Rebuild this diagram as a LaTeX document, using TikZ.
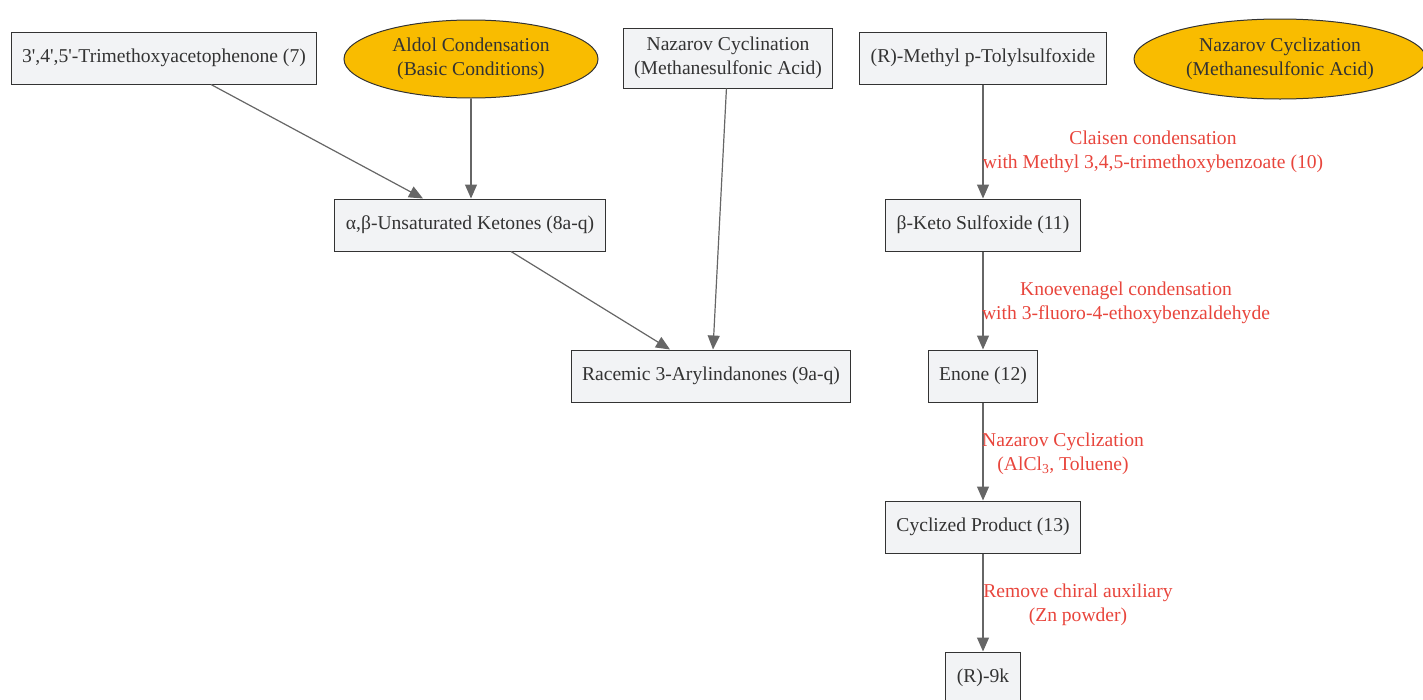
\documentclass[tikz,border=0pt]{standalone}
\usepackage{fontspec}
\setmainfont{Liberation Serif}
\usetikzlibrary{shapes.geometric,arrows.meta}
\definecolor{boxfill}{HTML}{F2F3F5}
\definecolor{boxline}{HTML}{333333}
\definecolor{condfill}{HTML}{F9BC00}
\definecolor{edgegray}{HTML}{666666}
\definecolor{labelred}{HTML}{E8453C}
\begin{document}
\begin{tikzpicture}[x=1pt,y=-1pt,%
% common options for the boxes:
block/.style = {draw=boxline, fill=boxfill, text=boxline, align=center, line width=1pt,
            minimum height=52pt, inner xsep=11pt, inner ysep=0, font=\fontsize{19.6}{24}\selectfont},
% common options for the ellipses:
cond/.style = {ellipse, draw=boxline, fill=condfill, text=boxline, align=center, line width=1pt,
            inner sep=0, font=\fontsize{19.6}{24}\selectfont},
% edge labels:
lab/.style = {text=labelred, align=center, font=\fontsize{19.6}{24}\selectfont},
link/.style = {draw=edgegray, line width=1.2pt, -{Triangle[length=14pt,width=12pt]}}]
\useasboundingbox (0,0) rectangle (1423,699);
\node[block] (tma) at (164,58) {3\textquotesingle,4\textquotesingle,5\textquotesingle-Trimethoxyacetophenone (7)};
\node[cond, minimum width=254pt, minimum height=78pt] (aldol) at (471,59) {Aldol Condensation\\(Basic Conditions)};
\node[block, minimum height=60pt] (naz1) at (728,58) {Nazarov Cyclination\\(Methanesulfonic Acid)};
\node[block] (sulf) at (983,58) {(R)-Methyl p-Tolylsulfoxide};
\node[cond, minimum width=292pt, minimum height=80pt] (naz2) at (1280,59) {Nazarov Cyclization\\(Methanesulfonic Acid)};
\node[block] (ket) at (470,225) {α,β-Unsaturated Ketones (8a-q)};
\node[block] (keto) at (983,225) {β-Keto Sulfoxide (11)};
\node[block] (rac) at (711,376) {Racemic 3-Arylindanones (9a-q)};
\node[block] (enone) at (983,376) {Enone (12)};
\node[block] (cyc) at (983,527) {Cyclized Product (13)};
\node[block] (r9k) at (983,678) {(R)-9k};
\draw[link] ([xshift=47pt]tma.south) -- ([xshift=-47pt]ket.north);
\draw[link] (aldol) -- (ket.north -| aldol);
\draw[link] ([xshift=41pt]ket.south) -- ([xshift=-41pt]rac.north);
\draw[link] (naz1) -- ([xshift=2pt]rac.north);
\draw[link] (sulf) -- (keto);
\draw[link] (keto) -- (enone);
\draw[link] (enone) -- (cyc);
\draw[link] (cyc) -- (r9k);
\node[lab] (l1) at (1153,152) {Claisen condensation\\with Methyl 3,4,5-trimethoxybenzoate (10)};
\node[lab] (l2) at (1126,303) {Knoevenagel condensation\\with 3-fluoro-4-ethoxybenzaldehyde};
\node[lab] (l3) at (1063,454) {Nazarov Cyclization\\(AlCl\textsubscript{3}, Toluene)};
\node[lab] (l4) at (1078,605) {Remove chiral auxiliary\\(Zn powder)};
\end{tikzpicture}
\end{document}
